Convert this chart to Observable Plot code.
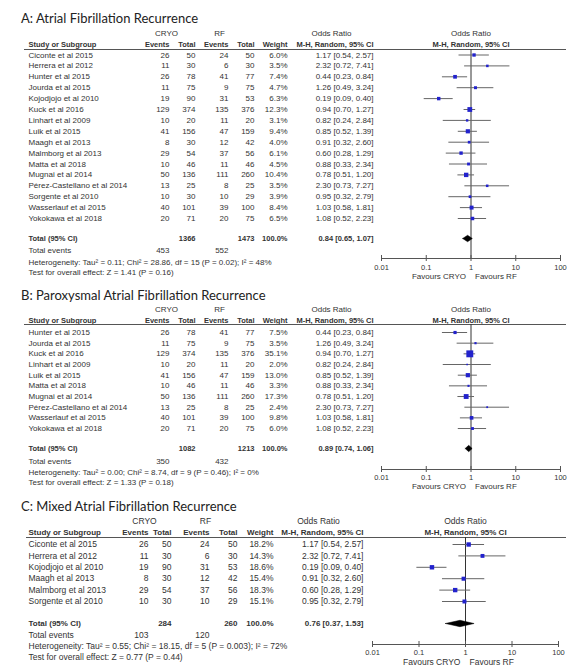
<!DOCTYPE html>
<html>
<head>
<meta charset="utf-8">
<script src="https://cdn.jsdelivr.net/npm/d3@7"></script>
<script src="https://cdn.jsdelivr.net/npm/@observablehq/plot@0.6"></script>
<style>
  body { margin: 0; background: #fff; width: 574px; overflow: hidden; }
  .title { font-family: Lato, "Open Sans", sans-serif; font-size: 13px; height: 20px; line-height: 20px; padding-left: 21px; color: #222; white-space: nowrap; }
  svg { display: block; }
</style>
</head>
<body>
<div id="root"></div>
<script>
// ---------- Axis ticks ----------
const tickValues = [0.01, 0.1, 1, 10, 100];
const tickLabels = ["0.01", "0.1", "1", "10", "100"];

// ---------- A: Atrial Fibrillation Recurrence ----------
const titleA = "A: Atrial Fibrillation Recurrence";
const studiesA = ["Ciconte et al 2015", "Herrera et al 2012", "Hunter et al 2015", "Jourda et al 2015", "Kojodjojo et al 2010", "Kuck et al 2016", "Linhart et al 2009", "Luik et al 2015", "Maagh et al 2013", "Malmborg et al 2013", "Matta et al 2018", "Mugnai et al 2014", "Pérez-Castellano et al 2014", "Sorgente et al 2010", "Wasserlauf et al 2015", "Yokokawa et al 2018"];
const cryoEventsA = [26, 11, 26, 11, 19, 129, 10, 41, 8, 29, 10, 50, 13, 10, 40, 20];
const cryoTotalA = [50, 30, 78, 75, 90, 374, 20, 156, 30, 54, 46, 136, 25, 30, 101, 71];
const rfEventsA = [24, 6, 41, 9, 31, 135, 11, 47, 12, 37, 11, 111, 8, 10, 39, 20];
const rfTotalA = [50, 30, 77, 75, 53, 376, 20, 159, 42, 56, 46, 260, 25, 29, 100, 75];
const weightA = [6.0, 3.5, 7.4, 4.7, 6.3, 12.3, 3.1, 9.4, 4.0, 6.1, 4.5, 10.4, 3.5, 3.9, 8.4, 6.5];
const orA = [1.17, 2.32, 0.44, 1.26, 0.19, 0.94, 0.82, 0.85, 0.91, 0.60, 0.88, 0.78, 2.30, 0.95, 1.03, 1.08];
const loA = [0.54, 0.72, 0.23, 0.49, 0.09, 0.70, 0.24, 0.52, 0.32, 0.28, 0.33, 0.51, 0.73, 0.32, 0.58, 0.52];
const hiA = [2.57, 7.41, 0.84, 3.24, 0.40, 1.27, 2.84, 1.39, 2.60, 1.29, 2.34, 1.20, 7.27, 2.79, 1.81, 2.23];
const totalsA = [1366, 1473];       // CRYO total, RF total
const totalEventsA = [453, 552];    // CRYO events, RF events
const pooledA = [0.84, 0.65, 1.07]; // OR, lower, upper
const heterogeneityA = "Heterogeneity: Tau² = 0.11; Chi² = 28.86, df = 15 (P = 0.02); I² = 48%";
const overallA = "Test for overall effect: Z = 1.41 (P = 0.16)";

// ---------- B: Paroxysmal Atrial Fibrillation Recurrence ----------
const titleB = "B: Paroxysmal Atrial Fibrillation Recurrence";
const studiesB = ["Hunter et al 2015", "Jourda et al 2015", "Kuck et al 2016", "Linhart et al 2009", "Luik et al 2015", "Matta et al 2018", "Mugnai et al 2014", "Pérez-Castellano et al 2014", "Wasserlauf et al 2015", "Yokokawa et al 2018"];
const cryoEventsB = [26, 11, 129, 10, 41, 10, 50, 13, 40, 20];
const cryoTotalB = [78, 75, 374, 20, 156, 46, 136, 25, 101, 71];
const rfEventsB = [41, 9, 135, 11, 47, 11, 111, 8, 39, 20];
const rfTotalB = [77, 75, 376, 20, 159, 46, 260, 25, 100, 75];
const weightB = [7.5, 3.5, 35.1, 2.0, 13.0, 3.3, 17.3, 2.4, 9.8, 6.0];
const orB = [0.44, 1.26, 0.94, 0.82, 0.85, 0.88, 0.78, 2.30, 1.03, 1.08];
const loB = [0.23, 0.49, 0.70, 0.24, 0.52, 0.33, 0.51, 0.73, 0.58, 0.52];
const hiB = [0.84, 3.24, 1.27, 2.84, 1.39, 2.34, 1.20, 7.27, 1.81, 2.23];
const totalsB = [1082, 1213];
const totalEventsB = [350, 432];
const pooledB = [0.89, 0.74, 1.06];
const heterogeneityB = "Heterogeneity: Tau² = 0.00; Chi² = 8.74, df = 9 (P = 0.46); I² = 0%";
const overallB = "Test for overall effect: Z = 1.33 (P = 0.18)";

// ---------- C: Mixed Atrial Fibrillation Recurrence ----------
const titleC = "C: Mixed Atrial Fibrillation Recurrence";
const studiesC = ["Ciconte et al 2015", "Herrera et al 2012", "Kojodjojo et al 2010", "Maagh et al 2013", "Malmborg et al 2013", "Sorgente et al 2010"];
const cryoEventsC = [26, 11, 19, 8, 29, 10];
const cryoTotalC = [50, 30, 90, 30, 54, 30];
const rfEventsC = [24, 6, 31, 12, 37, 10];
const rfTotalC = [50, 30, 53, 42, 56, 29];
const weightC = [18.2, 14.3, 18.6, 15.4, 18.3, 15.1];
const orC = [1.17, 2.32, 0.19, 0.91, 0.60, 0.95];
const loC = [0.54, 0.72, 0.09, 0.32, 0.28, 0.32];
const hiC = [2.57, 7.41, 0.40, 2.60, 1.29, 2.79];
const totalsC = [284, 260];
const totalEventsC = [103, 120];
const pooledC = [0.76, 0.37, 1.53];
const heterogeneityC = "Heterogeneity: Tau² = 0.55; Chi² = 18.15, df = 5 (P = 0.003); I² = 72%";
const overallC = "Test for overall effect: Z = 0.77 (P = 0.44)";

// ---------- layout (pixels within each section's svg) ----------
const layoutAB = {cols: {name: 28, ce: 169, ct: 195, re: 228, rt: 254, w: 287, or: 373, cryoHdr: 166, rfHdr: 219, orHdr: 331}, x: [381, 560], line: [24, 566]};
const layoutA = {...layoutAB, height: 257, rowTop: 26.5, rowStep: 10.9, hdr1: 5, hdr2: 16, line_y: 21, total: 210, events: 222, het: 234, test: 244, axis: 230, tick: 239, fav: 248, font: 8, bold: 7.5, rMax: 2.7, marginTop: 8};
const layoutB = {...layoutAB, height: 191, rowTop: 27, rowStep: 10.67, hdr1: 4, hdr2: 15, line_y: 19, total: 143, events: 156, het: 167, test: 177, axis: 164, tick: 172, fav: 181, font: 8, bold: 7.5, rMax: 3.9, marginTop: 0};
const layoutC = {cols: {name: 28, ce: 148, ct: 171, re: 209, rt: 237, w: 273, or: 363, cryoHdr: 144, rfHdr: 205, orHdr: 318}, x: [372, 558], line: [26, 566], height: 156, rowTop: 28, rowStep: 11.4, hdr1: 5, hdr2: 16, line_y: 21, total: 107, events: 119, het: 130, test: 141, axis: 128, tick: 136, fav: 146, font: 8.5, bold: 8, rMax: 2.5, marginTop: 0};

const f2 = d3.format(".2f");
const f1 = d3.format(".1f");
const ci = (o, l, h) => `${f2(o)} [${f2(l)}, ${f2(h)}]`;
const TXT = "#333";

function forest(S, L) {
  const n = S.studies.length;
  const idx = d3.range(n);
  const u = px => (px - L.rowTop) / L.rowStep; // pixel -> row units
  const C = L.cols;
  const fs = L.font, fb = L.bold;
  const col = (data, dx, text, anchor = "end") =>
    Plot.text(data, {frameAnchor: "left", dx, y: i => i, text, textAnchor: anchor, fill: TXT, fontSize: fs});
  const one = (s, dx, ypx, anchor, weight) =>
    Plot.text([s], {frameAnchor: "left", dx, y: u(ypx), text: d => d, textAnchor: anchor, fill: TXT, fontSize: weight === "bold" ? fb : fs, fontWeight: weight});
  const [po, pl, ph] = S.pooled;
  const yT = u(L.total), h = 3.2 / L.rowStep;
  const diamond = [{x: pl, y: yT}, {x: po, y: yT - h}, {x: ph, y: yT}, {x: po, y: yT + h}, {x: pl, y: yT}];
  const tickH = 3 / L.rowStep;
  return Plot.plot({
    width: 574, height: L.height, margin: 0,
    style: {fontFamily: "'Liberation Sans', Arial, sans-serif", background: "#fff", overflow: "visible"},
    x: {type: "log", domain: [0.01, 100], range: L.x, axis: null},
    y: {type: "linear", domain: [0, 1], range: [L.rowTop, L.rowTop + L.rowStep], axis: null},
    r: {type: "sqrt", domain: [0, d3.max(S.weight)], range: [0, L.rMax]},
    marks: [
      // header rows
      one("CRYO", C.cryoHdr, L.hdr1, "middle", "normal"),
      one("RF", C.rfHdr, L.hdr1, "middle", "normal"),
      one("Odds Ratio", C.orHdr, L.hdr1, "middle", "normal"),
      one("Study or Subgroup", C.name, L.hdr2, "start", "bold"),
      one("Events", C.ce, L.hdr2, "end", "bold"),
      one("Total", C.ct, L.hdr2, "end", "bold"),
      one("Events", C.re, L.hdr2, "end", "bold"),
      one("Total", C.rt, L.hdr2, "end", "bold"),
      one("Weight", C.w, L.hdr2, "end", "bold"),
      one("M-H, Random, 95% CI", C.or, L.hdr2, "end", "bold"),
      Plot.text(["Odds Ratio"], {x: 1, y: u(L.hdr1), text: d => d, fill: TXT, fontSize: fs}),
      Plot.text(["M-H, Random, 95% CI"], {x: 1, y: u(L.hdr2), text: d => d, fill: TXT, fontSize: fb, fontWeight: "bold"}),
      Plot.ruleY([u(L.line_y)], {insetLeft: L.line[0], insetRight: 574 - L.line[1], stroke: "#555", strokeWidth: 1}),
      // study rows
      col(idx, C.name, i => S.studies[i], "start"),
      col(idx, C.ce, i => S.cryoEvents[i]),
      col(idx, C.ct, i => S.cryoTotal[i]),
      col(idx, C.re, i => S.rfEvents[i]),
      col(idx, C.rt, i => S.rfTotal[i]),
      col(idx, C.w, i => f1(S.weight[i]) + "%"),
      col(idx, C.or, i => ci(S.or[i], S.lo[i], S.hi[i])),
      // totals
      one("Total (95% CI)", C.name, L.total, "start", "bold"),
      one(String(S.totals[0]), C.ct, L.total, "end", "bold"),
      one(String(S.totals[1]), C.rt, L.total, "end", "bold"),
      one("100.0%", C.w, L.total, "end", "bold"),
      one(ci(po, pl, ph), C.or, L.total, "end", "bold"),
      one("Total events", C.name, L.events, "start", "normal"),
      one(String(S.totalEvents[0]), C.ce, L.events, "end", "normal"),
      one(String(S.totalEvents[1]), C.re, L.events, "end", "normal"),
      one(S.het, C.name, L.het, "start", "normal"),
      one(S.overall, C.name, L.test, "start", "normal"),
      // forest plot
      Plot.ruleX([1], {y1: u(L.line_y), y2: u(L.axis), stroke: "#333", strokeWidth: 1}),
      Plot.ruleY(idx, {y: i => i, x1: i => S.lo[i], x2: i => S.hi[i], stroke: "#666", strokeWidth: 1}),
      Plot.dot(idx, {x: i => S.or[i], y: i => i, r: i => S.weight[i], symbol: "square", fill: "#2222cc", stroke: null}),
      Plot.line(diamond, {x: "x", y: "y", fill: "#000", stroke: "#000", strokeWidth: 0.5}),
      // axis
      Plot.ruleY([u(L.axis)], {x1: 0.01, x2: 100, stroke: "#555", strokeWidth: 1}),
      Plot.ruleX(tickValues, {x: d => d, y1: u(L.axis) - tickH, y2: u(L.axis) + tickH, stroke: "#555"}),
      Plot.text(tickValues, {x: d => d, y: u(L.tick), text: (d, i) => tickLabels[i], fill: TXT, fontSize: 7.5}),
      Plot.text(["Favours CRYO"], {x: 1, y: u(L.fav), dx: -5, text: d => d, textAnchor: "end", fill: TXT, fontSize: fs}),
      Plot.text(["Favours RF"], {x: 1, y: u(L.fav), dx: 4, text: d => d, textAnchor: "start", fill: TXT, fontSize: fs})
    ]
  });
}

const sections = [
  [titleA, {studies: studiesA, cryoEvents: cryoEventsA, cryoTotal: cryoTotalA, rfEvents: rfEventsA, rfTotal: rfTotalA, weight: weightA, or: orA, lo: loA, hi: hiA, totals: totalsA, totalEvents: totalEventsA, pooled: pooledA, het: heterogeneityA, overall: overallA}, layoutA],
  [titleB, {studies: studiesB, cryoEvents: cryoEventsB, cryoTotal: cryoTotalB, rfEvents: rfEventsB, rfTotal: rfTotalB, weight: weightB, or: orB, lo: loB, hi: hiB, totals: totalsB, totalEvents: totalEventsB, pooled: pooledB, het: heterogeneityB, overall: overallB}, layoutB],
  [titleC, {studies: studiesC, cryoEvents: cryoEventsC, cryoTotal: cryoTotalC, rfEvents: rfEventsC, rfTotal: rfTotalC, weight: weightC, or: orC, lo: loC, hi: hiC, totals: totalsC, totalEvents: totalEventsC, pooled: pooledC, het: heterogeneityC, overall: overallC}, layoutC]
];

const root = document.getElementById("root");
for (const [title, S, L] of sections) {
  const t = document.createElement("div");
  t.className = "title";
  t.style.marginTop = L.marginTop + "px";
  t.textContent = title;
  root.appendChild(t);
  root.appendChild(forest(S, L));
}
</script>
</body>
</html>
